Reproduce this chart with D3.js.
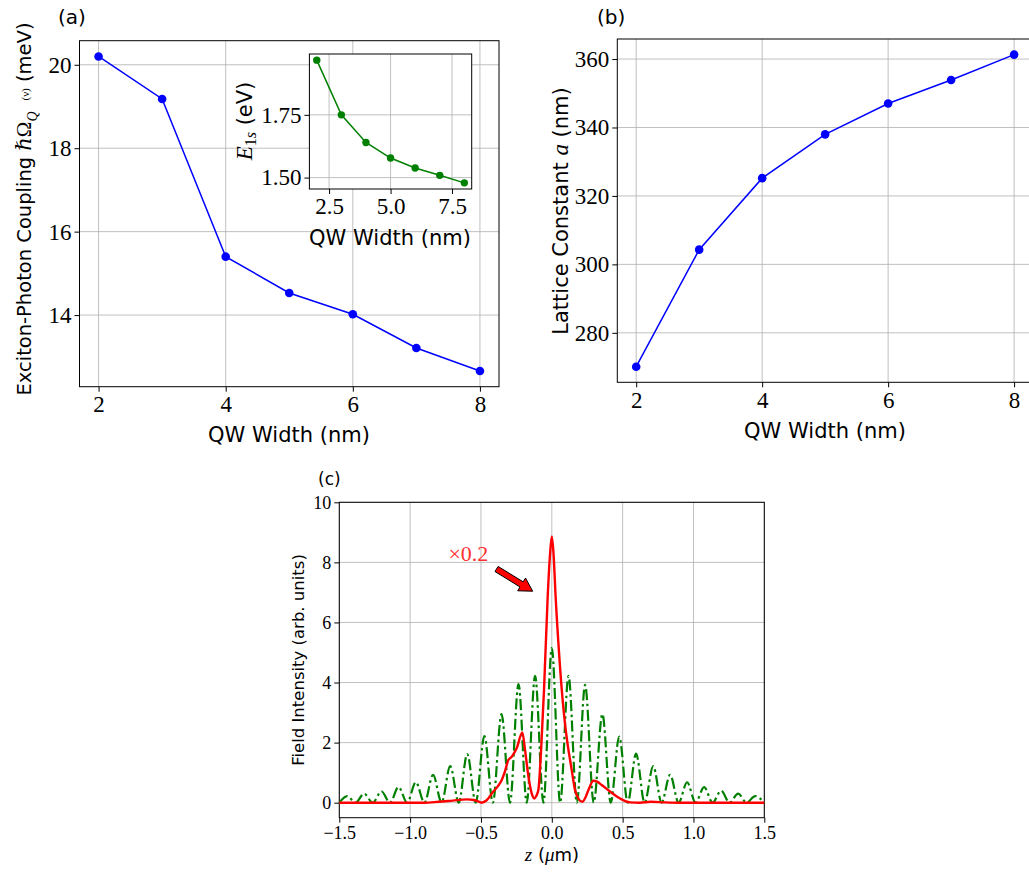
<!DOCTYPE html>
<meta charset="utf-8">
<style>
body{margin:0;background:#fff;overflow:hidden;}
text{font-family:"DejaVu Sans",sans-serif;fill:#000;}
.tick text{font-family:"Liberation Serif","DejaVu Serif",serif;}
.tick line{stroke:#000;stroke-width:1px;}
.grid line{stroke:#b0b0b0;stroke-width:0.8px;}
.frame{fill:none;stroke:#000;stroke-width:1px;}
.serif{font-family:"Liberation Serif","DejaVu Serif",serif;}
</style>
<body>
<script src="https://d3js.org/d3.v7.min.js"></script>
<script>
// panel (a) and (b): values vs quantum well width
var qwWidth = [2, 3, 4, 5, 6, 7, 8];
var coupling = [20.2, 19.18, 15.4, 14.53, 14.02, 13.21, 12.66];
var latticeA = [270.1, 304.3, 325.2, 338.0, 347.0, 353.9, 361.3];
var e1s = [1.968, 1.75, 1.64, 1.578, 1.538, 1.509, 1.479];

var ticksAx = [2, 4, 6, 8], ticksAy = [14, 16, 18, 20];
var ticksBy = [280, 300, 320, 340, 360];
var ticksInX = [2.5, 5.0, 7.5], ticksInY = [1.50, 1.75];

// panel (c): field intensity profiles
var zGreen = [-1.5, -1.445, -1.385, -1.325, -1.264, -1.203, -1.142, -1.082, -1.021, -0.96, -0.899, -0.838,
  -0.778, -0.717, -0.657, -0.597, -0.537, -0.476, -0.416, -0.355, -0.295, -0.235, -0.177, -0.118, -0.059,
  0, 0.059, 0.118, 0.177, 0.235, 0.296, 0.357, 0.416, 0.476, 0.536, 0.595, 0.655, 0.716, 0.775, 0.835,
  0.895, 0.955, 1.015, 1.075, 1.135, 1.195, 1.255, 1.315, 1.375, 1.435, 1.5];
var iGreen = [0, 0.22, 0, 0.30, 0, 0.38, 0, 0.52, 0, 0.68, 0, 0.93,
  0, 1.22, 0, 1.62, 0, 2.22, 0, 2.95, 0, 3.95, 0, 4.22, 0,
  5.15, 0, 4.22, 0, 3.92, 0, 2.95, 0, 2.2, 0, 1.63, 0, 1.22, 0, 0.93,
  0, 0.68, 0, 0.52, 0, 0.4, 0, 0.3, 0, 0.22, 0];

var zRed = [-1.5, -0.9, -0.8, -0.7, -0.6, -0.55, -0.52, -0.495, -0.46, -0.413, -0.38, -0.354, -0.33, -0.307,
  -0.283, -0.248, -0.208, -0.189, -0.165, -0.142, -0.123, -0.11, -0.095, -0.075, -0.055, -0.029, -0.012, 0,
  0.012, 0.027, 0.053, 0.075, 0.093, 0.113, 0.133, 0.15, 0.164, 0.19, 0.216, 0.24, 0.265, 0.293, 0.32,
  0.352, 0.411, 0.482, 0.552, 0.62, 0.7, 0.8, 0.9, 1.5];
var iRed = [0, 0, 0.03, 0.07, 0.11, 0.09, 0.04, 0, 0.08, 0.37, 0.55, 0.75, 1.05, 1.42,
  1.53, 1.81, 2.34, 1.76, 0.87, 0.31, 0.14, 0.22, 0.42, 1.8, 3.75, 6.86, 8.3, 8.86,
  8.3, 6.86, 4.86, 3.5, 2.64, 1.9, 1.31, 0.8, 0.42, 0.12, 0.03, 0.2, 0.5, 0.73, 0.7,
  0.59, 0.37, 0.14, 0.01, 0, 0.03, 0.01, 0, 0];

var ticksCx = [-1.5, -1.0, -0.5, 0.0, 0.5, 1.0, 1.5];
var ticksCy = [0, 2, 4, 6, 8, 10];

var arrowTail = [-0.39, 7.78], arrowTip = [-0.135, 7.04];
var scaleNote = {z: -0.73, v: 8.03, text: "×0.2"};

var svg = d3.select("body").append("svg").attr("width", 1029).attr("height", 873);

function padded(vals){
  var lo = d3.min(vals), hi = d3.max(vals), p = (hi - lo) * 0.05;
  return [lo - p, hi + p];
}

function panel(x, y, xt, yt, xf, yf, fs){
  var g = svg.append("g");
  var x0 = x.range()[0], x1 = x.range()[1], y0 = y.range()[0], y1 = y.range()[1];
  g.append("rect").attr("x", x0).attr("y", y1).attr("width", x1 - x0).attr("height", y0 - y1).attr("fill", "#fff");
  var gr = g.append("g").attr("class", "grid");
  gr.selectAll(".gx").data(xt).join("line").attr("x1", d => x(d)).attr("x2", d => x(d)).attr("y1", y0).attr("y2", y1);
  gr.selectAll(".gy").data(yt).join("line").attr("y1", d => y(d)).attr("y2", d => y(d)).attr("x1", x0).attr("x2", x1);
  var ax = g.append("g").attr("transform", "translate(0," + y0 + ")")
    .call(d3.axisBottom(x).tickValues(xt).tickFormat(xf).tickSize(5).tickPadding(4).tickSizeOuter(0));
  var ay = g.append("g").attr("transform", "translate(" + x0 + ",0)")
    .call(d3.axisLeft(y).tickValues(yt).tickFormat(yf).tickSize(5).tickPadding(3).tickSizeOuter(0));
  [ax, ay].forEach(function(a){
    a.select(".domain").remove();
    a.selectAll("text").style("font-size", fs + "px");
  });
  g.append("rect").attr("class", "frame").attr("x", x0).attr("y", y1).attr("width", x1 - x0).attr("height", y0 - y1);
  return g;
}

function series(g, x, y, xs, ys, color, r){
  var pts = xs.map((d, i) => [x(d), y(ys[i])]);
  g.append("path").attr("d", d3.line()(pts)).attr("fill", "none").attr("stroke", color).attr("stroke-width", 1.5);
  g.selectAll(null).data(pts).join("circle").attr("cx", d => d[0]).attr("cy", d => d[1]).attr("r", r).attr("fill", color);
}

// ---------- (a) ----------
var xa = d3.scaleLinear().domain(padded(qwWidth)).range([79.5, 499]);
var ya = d3.scaleLinear().domain(padded(coupling)).range([386.7, 40.7]);
var ga = panel(xa, ya, ticksAx, ticksAy, d => d, d => d, 23);
series(ga, xa, ya, qwWidth, coupling, "#0000ff", 4.3);

svg.append("text").attr("x", 289).attr("y", 442).attr("text-anchor", "middle").style("font-size", "21px").text("QW Width (nm)");
var yl = svg.append("text").attr("transform", "translate(31,209) rotate(-90)").attr("text-anchor", "middle").style("font-size", "19.5px");
yl.append("tspan").text("Exciton-Photon Coupling ");
yl.append("tspan").attr("class", "serif").style("font-style", "italic").style("font-size", "21px").text("ℏ");
yl.append("tspan").attr("class", "serif").style("font-size", "21px").text("Ω");
yl.append("tspan").attr("class", "serif").attr("dy", 6).style("font-style", "italic").style("font-size", "14px").text("Q⃗");
yl.append("tspan").attr("class", "serif").attr("dy", -8).style("font-size", "11px").text("(ν)");
yl.append("tspan").attr("dy", 2).text(" (meV)");
svg.append("text").attr("x", 58).attr("y", 24).style("font-size", "20px").text("(a)");

// inset
var xi = d3.scaleLinear().domain(padded(qwWidth)).range([309.4, 471.7]);
var yi = d3.scaleLinear().domain(padded(e1s)).range([189, 54]);
var gi = panel(xi, yi, ticksInX, ticksInY, d3.format(".1f"), d3.format(".2f"), 23);
series(gi, xi, yi, qwWidth, e1s, "#008000", 3.7);
svg.append("text").attr("x", 390).attr("y", 245).attr("text-anchor", "middle").style("font-size", "21px").text("QW Width (nm)");
var il = svg.append("text").attr("transform", "translate(252,121) rotate(-90)").attr("text-anchor", "middle").style("font-size", "21px");
il.append("tspan").attr("class", "serif").style("font-style", "italic").style("font-size", "23px").text("E");
il.append("tspan").attr("class", "serif").attr("dy", 4).style("font-size", "16px").text("1");
il.append("tspan").attr("class", "serif").style("font-style", "italic").style("font-size", "16px").text("s");
il.append("tspan").attr("dy", -4).text(" (eV)");

// ---------- (b) ----------
var xb = d3.scaleLinear().domain(padded(qwWidth)).range([617.3, 1033]);
var yb = d3.scaleLinear().domain(padded(latticeA)).range([382.3, 39]);
var gb = panel(xb, yb, ticksAx, ticksBy, d => d, d => d, 23);
series(gb, xb, yb, qwWidth, latticeA, "#0000ff", 4.3);
svg.append("text").attr("x", 825).attr("y", 438).attr("text-anchor", "middle").style("font-size", "21px").text("QW Width (nm)");
var bl = svg.append("text").attr("transform", "translate(568,211) rotate(-90)").attr("text-anchor", "middle").style("font-size", "21px");
bl.append("tspan").text("Lattice Constant ");
bl.append("tspan").attr("class", "serif").style("font-style", "italic").style("font-size", "23px").text("a");
bl.append("tspan").text(" (nm)");
svg.append("text").attr("x", 597).attr("y", 24).style("font-size", "20px").text("(b)");

// ---------- (c) ----------
var xc = d3.scaleLinear().domain([-1.5, 1.5]).range([339.3, 764.3]);
var yc = d3.scaleLinear().domain([-0.5, 10]).range([817.7, 502.3]);
var gc = panel(xc, yc, ticksCx, ticksCy, d3.format(".1f"), d => d, 18);
var lineC = d3.line().x(d => xc(d[0])).y(d => yc(d[1])).curve(d3.curveMonotoneX);
gc.append("path").attr("d", lineC(zGreen.map((d, i) => [d, iGreen[i]])))
  .attr("fill", "none").attr("stroke", "#008000").attr("stroke-width", 2.2).attr("stroke-dasharray", "11,3.5,2.5,3.5");
gc.append("path").attr("d", lineC(zRed.map((d, i) => [d, iRed[i]])))
  .attr("fill", "none").attr("stroke", "#ff0000").attr("stroke-width", 2.4);

// arrow annotation
var t = [xc(arrowTail[0]), yc(arrowTail[1])], h = [xc(arrowTip[0]), yc(arrowTip[1])];
var dx = h[0] - t[0], dy = h[1] - t[1], L = Math.hypot(dx, dy);
var u = [dx / L, dy / L], n = [-u[1], u[0]];
var sw = 3, hw = 7.5, hl = 13;
var nk = [h[0] - u[0] * hl, h[1] - u[1] * hl];
var poly = [
  [t[0] + n[0] * sw, t[1] + n[1] * sw], [nk[0] + n[0] * sw, nk[1] + n[1] * sw], [nk[0] + n[0] * hw, nk[1] + n[1] * hw],
  h, [nk[0] - n[0] * hw, nk[1] - n[1] * hw], [nk[0] - n[0] * sw, nk[1] - n[1] * sw], [t[0] - n[0] * sw, t[1] - n[1] * sw]];
gc.append("path").attr("d", "M" + poly.join("L") + "Z").attr("fill", "#ff0000").attr("stroke", "#000").attr("stroke-width", 1);
gc.append("text").attr("class", "serif").attr("x", xc(scaleNote.z)).attr("y", yc(scaleNote.v))
  .style("font-size", "22px").style("fill", "#ff3030").text(scaleNote.text);

var cx = svg.append("text").attr("x", 552).attr("y", 861).attr("text-anchor", "middle").style("font-size", "18px");
cx.append("tspan").attr("class", "serif").style("font-style", "italic").style("font-size", "19px").text("z");
cx.append("tspan").text(" (");
cx.append("tspan").attr("class", "serif").style("font-style", "italic").style("font-size", "19px").text("μ");
cx.append("tspan").text("m)");
svg.append("text").attr("transform", "translate(304,660) rotate(-90)").attr("text-anchor", "middle").style("font-size", "16.5px").text("Field Intensity (arb. units)");
svg.append("text").attr("x", 318).attr("y", 485).style("font-size", "17px").text("(c)");
</script>
</body>
